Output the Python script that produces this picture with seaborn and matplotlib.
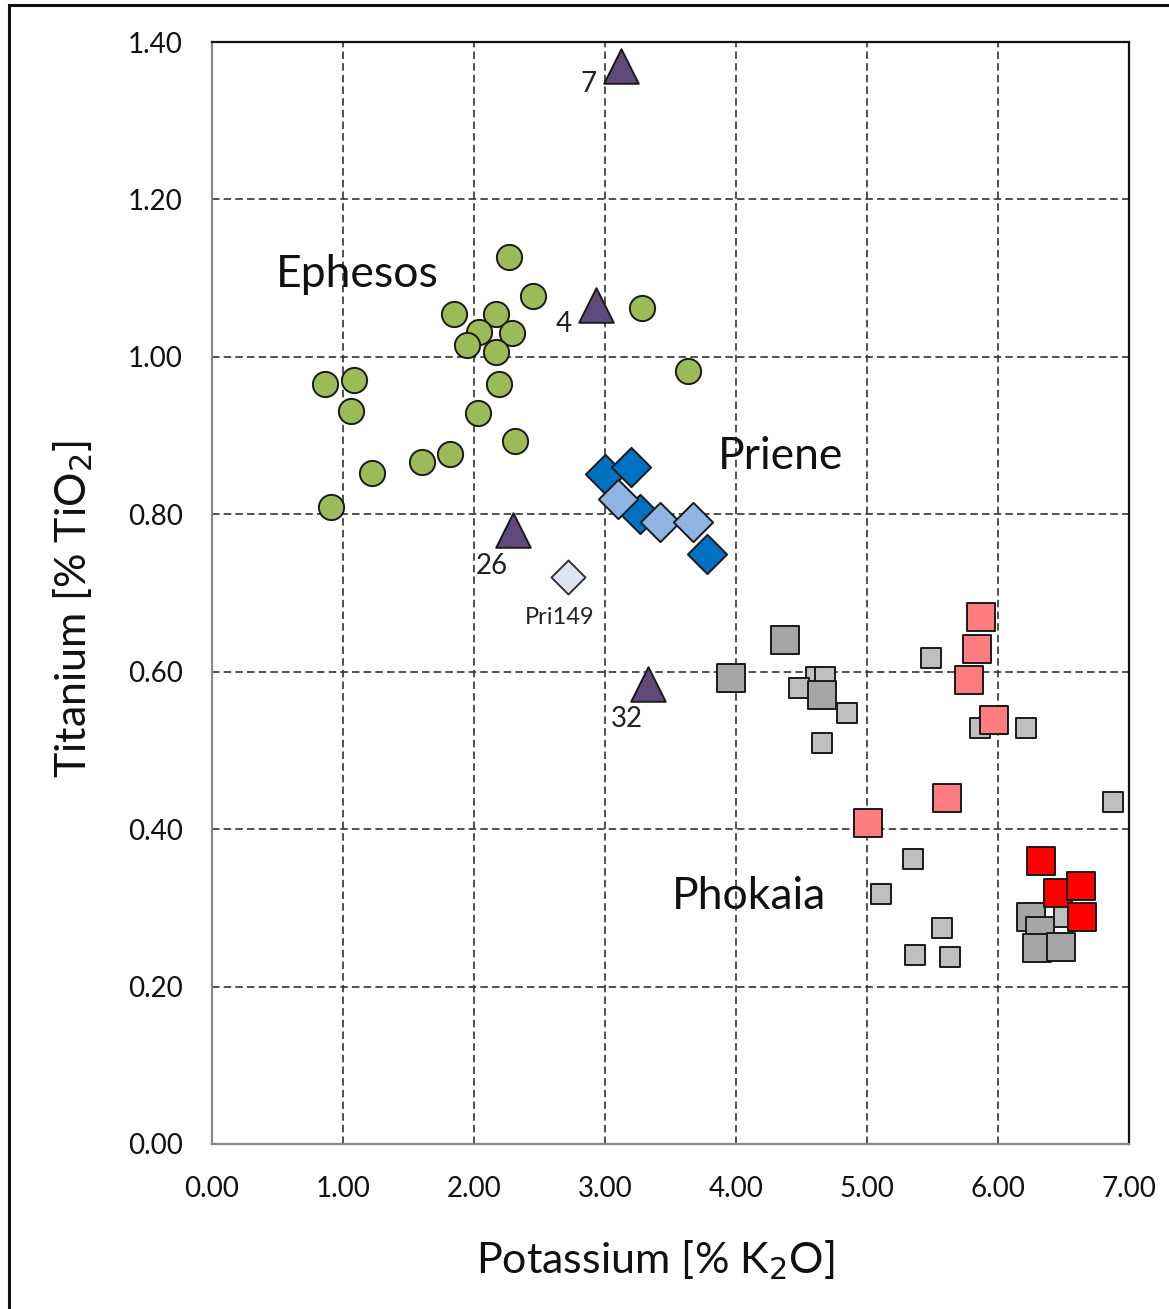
import numpy as np
import pandas as pd
import seaborn as sns
from matplotlib import pyplot as plt
from matplotlib.patches import Rectangle

# Ephesos (green circles)
eph_k = [2.27, 2.45, 1.85, 2.17, 2.04, 2.29, 1.95, 2.17, 3.28, 3.63,
         0.86, 1.08, 1.06, 2.19, 2.03, 2.31, 1.82, 1.60, 1.22, 0.91]
eph_ti = [1.127, 1.077, 1.055, 1.055, 1.031, 1.030, 1.015, 1.006, 1.062, 0.982,
          0.965, 0.970, 0.931, 0.965, 0.929, 0.893, 0.876, 0.866, 0.852, 0.809]

# purple triangles with sample numbers
tri_k = [3.12, 2.93, 2.30, 3.33]
tri_ti = [1.369, 1.066, 0.780, 0.584]
tri_lab = ["7", "4", "26", "32"]

# Priene (diamonds)
pri_dark_k = [3.00, 3.20, 3.27, 3.78]
pri_dark_ti = [0.851, 0.860, 0.800, 0.750]
pri_light_k = [3.10, 3.42, 3.67]
pri_light_ti = [0.820, 0.790, 0.790]
pri149_k = [2.72]
pri149_ti = [0.720]

# Phokaia (squares)
gray_small_k = [4.61, 4.68, 4.48, 4.85, 4.66, 5.49, 5.86, 6.21, 6.88, 5.35,
                5.11, 5.57, 5.37, 5.63, 6.50]
gray_small_ti = [0.593, 0.593, 0.579, 0.547, 0.509, 0.618, 0.529, 0.529, 0.434, 0.362,
                 0.317, 0.274, 0.240, 0.238, 0.288]
gray_big_k = [4.37, 3.96, 4.66, 6.25, 6.32, 6.30, 6.48]
gray_big_ti = [0.640, 0.592, 0.570, 0.288, 0.271, 0.249, 0.250]
pink_k = [5.87, 5.84, 5.78, 5.97, 5.61, 5.01]
pink_ti = [0.670, 0.629, 0.589, 0.539, 0.439, 0.408]
red_k = [6.33, 6.46, 6.63, 6.64]
red_ti = [0.359, 0.319, 0.328, 0.288]

xticks = np.arange(0, 7.01, 1.0)
yticks = np.arange(0, 1.401, 0.2)

sns.set_style("white")
plt.rcParams['font.family'] = ['Lato', 'DejaVu Sans']

fig = plt.figure(figsize=(11.69, 13.09), dpi=100)
ax = fig.add_axes([0.1814, 0.1261, 0.9658 - 0.1814, 0.9679 - 0.1261])

ax.set_xlim(0, 7)
ax.set_ylim(0, 1.4)
ax.set_xticks(xticks)
ax.set_yticks(yticks)
ax.set_xticklabels([f"{v:.2f}" for v in xticks])
ax.set_yticklabels([f"{v:.2f}" for v in yticks])
ax.grid(True, color="#333333", linestyle=(0, (4.5, 2.5)), linewidth=1.2)
ax.set_axisbelow(True)

edge = "#1a1a1a"
lw = 1.4
sns.scatterplot(x=gray_small_k, y=gray_small_ti, marker="s", s=190, color="#BFBFBF",
                edgecolor=edge, linewidth=lw, ax=ax, zorder=3)
sns.scatterplot(x=gray_big_k, y=gray_big_ti, marker="s", s=380, color="#A6A6A6",
                edgecolor=edge, linewidth=lw, ax=ax, zorder=3)
sns.scatterplot(x=pink_k, y=pink_ti, marker="s", s=380, color="#FF7C80",
                edgecolor=edge, linewidth=lw, ax=ax, zorder=3)
sns.scatterplot(x=red_k, y=red_ti, marker="s", s=380, color="#FF0000",
                edgecolor=edge, linewidth=lw, ax=ax, zorder=3)
sns.scatterplot(x=pri_dark_k, y=pri_dark_ti, marker="D", s=400, color="#0070C0",
                edgecolor=edge, linewidth=lw, ax=ax, zorder=3)
sns.scatterplot(x=pri_light_k, y=pri_light_ti, marker="D", s=400, color="#8DB4E2",
                edgecolor=edge, linewidth=lw, ax=ax, zorder=4)
sns.scatterplot(x=pri149_k, y=pri149_ti, marker="D", s=300, color="#DCE6F2",
                edgecolor="#333333", linewidth=lw, ax=ax, zorder=3)
sns.scatterplot(x=eph_k, y=eph_ti, marker="o", s=330, color="#9BBB59",
                edgecolor=edge, linewidth=lw, ax=ax, zorder=3)
sns.scatterplot(x=tri_k, y=tri_ti, marker="^", s=620, color="#604A7B",
                edgecolor=edge, linewidth=lw, ax=ax, zorder=5)

# sample labels next to triangles / Pri149
offsets = [(-32, -18), (-32, -19), (-22, -36), (-21, -35)]
for k, ti, lab, off in zip(tri_k, tri_ti, tri_lab, offsets):
    ax.annotate(lab, (k, ti), xytext=off, textcoords="offset pixels",
                ha="center", va="center", fontsize=20, color="#222222")
ax.annotate("Pri149", (pri149_k[0], pri149_ti[0]), xytext=(-9, -40),
            textcoords="offset pixels", ha="center", va="center",
            fontsize=17, color="#222222")

# group names
ax.text(1.11, 1.105, "Ephesos", ha="center", va="center", fontsize=32, color="#111111")
ax.text(4.34, 0.873, "Priene", ha="center", va="center", fontsize=32, color="#111111")
ax.text(4.10, 0.314, "Phokaia", ha="center", va="center", fontsize=32, color="#111111")

for side in ["left", "bottom"]:
    ax.spines[side].set_color("#888888")
    ax.spines[side].set_linewidth(1.6)
for side in ["top", "right"]:
    ax.spines[side].set_color("#111111")
    ax.spines[side].set_linewidth(1.6)
ax.tick_params(axis="both", direction="out", length=7, width=1.4, color="#888888",
               labelsize=20, labelcolor="#111111")
ax.tick_params(axis="y", pad=14)
ax.tick_params(axis="x", pad=16)

ax.set_xlabel("Potassium [% K$_2$O]", fontsize=31, labelpad=26, color="#111111")
ax.set_ylabel("Titanium [% TiO$_2$]", fontsize=31, labelpad=24, color="#111111")
ax.xaxis.label.set_x(0.483)
ax.yaxis.label.set_y(0.485)

fig.add_artist(Rectangle((9 / 1169, -0.05), 1.2, 1.05 - 5 / 1309, fill=False,
                         linewidth=2.2, edgecolor="#111111",
                         transform=fig.transFigure))

fig.savefig("out.png", dpi=100)
